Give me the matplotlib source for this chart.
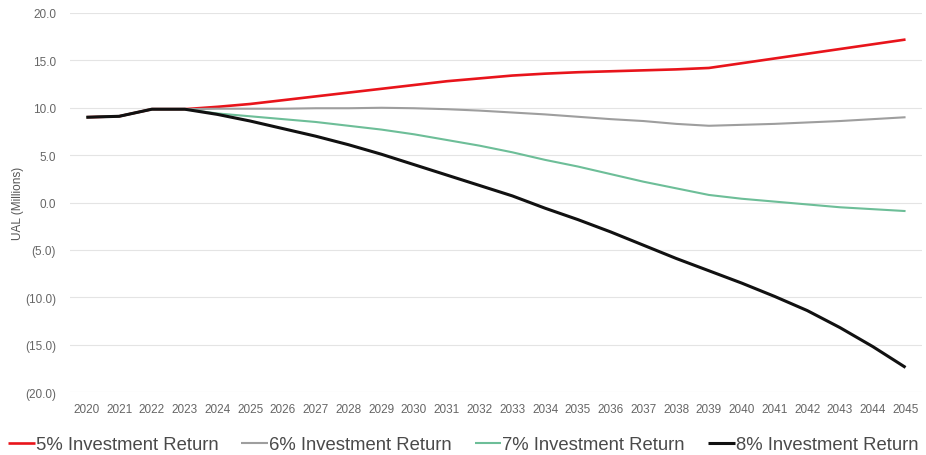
import matplotlib
matplotlib.use("Agg")
import matplotlib.pyplot as plt
from matplotlib.ticker import FuncFormatter

plt.rcParams['font.family'] = ['Liberation Sans', 'DejaVu Sans']

years = list(range(2020, 2046))
history = [9.0, 9.1, 9.85, 9.85]

ret_5 = history + [10.1, 10.4, 10.8, 11.2, 11.6, 12.0, 12.4, 12.8, 13.1, 13.4,
                   13.6, 13.75, 13.85, 13.95, 14.05, 14.2, 14.7, 15.2, 15.7, 16.2, 16.7, 17.2]
ret_6 = history + [9.9, 9.9, 9.9, 9.95, 9.95, 10.0, 9.95, 9.85, 9.7, 9.5,
                   9.3, 9.05, 8.8, 8.6, 8.3, 8.1, 8.2, 8.3, 8.45, 8.6, 8.8, 9.0]
ret_7 = history + [9.4, 9.1, 8.8, 8.5, 8.1, 7.7, 7.2, 6.6, 6.0, 5.3,
                   4.5, 3.8, 3.0, 2.2, 1.5, 0.8, 0.4, 0.1, -0.2, -0.5, -0.7, -0.9]
ret_8 = history + [9.3, 8.6, 7.8, 7.0, 6.1, 5.1, 4.0, 2.9, 1.8, 0.7,
                   -0.6, -1.8, -3.1, -4.5, -5.9, -7.2, -8.5, -9.9, -11.4, -13.2, -15.2, -17.4]

series_labels = ["5% Investment Return", "6% Investment Return",
                 "7% Investment Return", "8% Investment Return"]
series_values = [ret_5, ret_6, ret_7, ret_8]
colors = ["#E8141B", "#9E9E9E", "#6DBE98", "#111111"]
widths = [1.9, 1.5, 1.5, 2.2]

fig = plt.figure(figsize=(9.26, 4.56), dpi=100)
ax = fig.add_axes([0.0756, 0.138, 0.92, 0.8313])

x = list(range(len(years)))
for vals, lab, c, w in zip(series_values, series_labels, colors, widths):
    ax.plot(x, vals, color=c, lw=w, label=lab, solid_capstyle='butt',
            solid_joinstyle='round')

ax.set_xlim(-0.5, len(years) - 0.5)
ax.set_ylim(-20, 20)
ax.set_yticks(range(-20, 21, 5))
ax.yaxis.set_major_formatter(FuncFormatter(
    lambda v, p: f"({abs(v):.1f})" if v < 0 else f"{v:.1f}"))
ax.set_xticks(x)
ax.set_xticklabels([str(y) for y in years])

ax.grid(axis='y', color='#E4E4E4', lw=0.8)
ax.set_axisbelow(True)
for s in ax.spines.values():
    s.set_visible(False)
ax.tick_params(axis='both', length=0, labelsize=8.5, labelcolor='#666666')
ax.tick_params(axis='x', pad=8)
ax.tick_params(axis='y', pad=10)
ax.set_ylabel("UAL (Millions)", fontsize=8.5, color='#555555')
ax.yaxis.set_label_coords(-0.054, 0.5)

fig.legend(loc='lower center', bbox_to_anchor=(0.5, -0.032), ncol=4, frameon=False,
           fontsize=13.3, handlelength=1.45, handletextpad=0.05, columnspacing=1.25,
           labelcolor='#4a4a4a')

fig.savefig("out.png", dpi=100, facecolor='white')
